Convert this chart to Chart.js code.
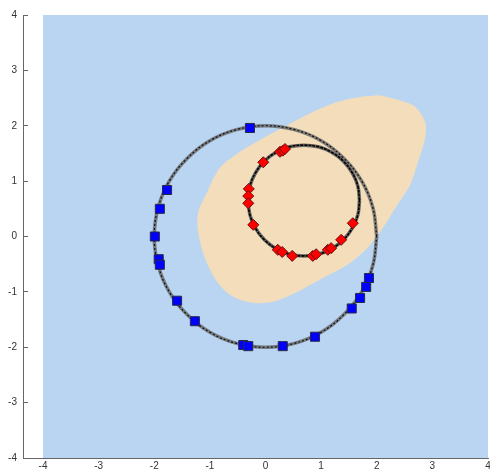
<!DOCTYPE html>
<html>
<head>
<meta charset="utf-8">
<script src="https://cdn.jsdelivr.net/npm/chart.js@4.4.1/dist/chart.umd.min.js"></script>
<style>
  html, body { margin: 0; padding: 0; background: #fff; overflow: hidden; }
  #wrap { position: relative; width: 490px; height: 472px; }
  #chart { display: block; }
</style>
</head>
<body>
<div id="wrap"><canvas id="chart"></canvas></div>
<script>
// tick labels
const xTicks = [-4, -3, -2, -1, 0, 1, 2, 3, 4];
const yTicks = [-4, -3, -2, -1, 0, 1, 2, 3, 4];

// region covered by the classifier image
const regionX = [-4, 4, 4, -4, -4];
const regionY = [-4, -4, 4, 4, -4];

// boundary of the positive (tan) region
const boundaryX = [2.06, 2.65, 2.87, 2.87, 2.74, 2.60, 2.37, 2.06, 1.83, 1.47, 1.03, 0.57, 0.13, -0.22, -0.58, -0.87, -1.09, -1.21, -1.21, -1.05, -0.82, -0.46, -0.04, 0.39, 0.85, 1.29, 1.70, 2.06];
const boundaryY = [2.55, 2.37, 2.07, 1.78, 1.34, 0.93, 0.57, 0.08, -0.21, -0.51, -0.75, -1.00, -1.18, -1.20, -1.09, -0.82, -0.39, 0.08, 0.44, 0.80, 1.24, 1.53, 1.78, 2.01, 2.25, 2.43, 2.52, 2.55];

// sampled outer ring
const outerX = [2.00, 1.93, 1.73, 1.41, 1.00, 0.52, 0.00, -0.52, -1.00, -1.41, -1.73, -1.93, -2.00, -1.93, -1.73, -1.41, -1.00, -0.52, 0.00, 0.52, 1.00, 1.41, 1.73, 1.93, 2.00];
const outerY = [0.00, 0.52, 1.00, 1.41, 1.73, 1.93, 2.00, 1.93, 1.73, 1.41, 1.00, 0.52, 0.00, -0.52, -1.00, -1.41, -1.73, -1.93, -2.00, -1.93, -1.73, -1.41, -1.00, -0.52, 0.00];

// sampled inner ring
const innerX = [1.69, 1.66, 1.56, 1.40, 1.19, 0.95, 0.69, 0.43, 0.19, -0.02, -0.18, -0.28, -0.31, -0.28, -0.18, -0.02, 0.19, 0.43, 0.69, 0.95, 1.19, 1.40, 1.56, 1.66, 1.69];
const innerY = [0.65, 0.91, 1.15, 1.36, 1.52, 1.62, 1.65, 1.62, 1.52, 1.36, 1.15, 0.91, 0.65, 0.39, 0.15, -0.06, -0.22, -0.32, -0.35, -0.32, -0.22, -0.06, 0.15, 0.39, 0.65];

// negative class points (blue squares)
const negX = [-0.28, -1.77, -1.90, -1.99, -1.92, -1.90, -1.59, -1.27, -0.40, -0.31, 0.31, 0.89, 1.55, 1.70, 1.81, 1.86];
const negY = [1.96, 0.84, 0.50, 0.00, -0.41, -0.51, -1.16, -1.53, -1.96, -1.98, -1.98, -1.81, -1.30, -1.11, -0.91, -0.75];

// positive class points (red diamonds)
const posX = [0.26, 0.31, 0.35, -0.04, -0.30, -0.31, -0.31, -0.22, 0.22, 0.30, 0.48, 0.85, 0.91, 1.12, 1.18, 1.36, 1.57];
const posY = [1.53, 1.55, 1.58, 1.34, 0.86, 0.73, 0.60, 0.21, -0.24, -0.28, -0.35, -0.35, -0.32, -0.24, -0.21, -0.06, 0.24];

function pts(xs, ys) {
  return xs.map((x, i) => ({ x: x, y: ys[i] }));
}

function ring(xs, ys, color, width, dash, order) {
  return {
    data: pts(xs, ys),
    showLine: true,
    borderColor: color,
    borderWidth: width,
    borderDash: dash,
    tension: 0.4,
    pointRadius: 0,
    fill: false,
    order: order
  };
}

new Chart(document.getElementById("chart"), {
  type: "scatter",
  data: {
    datasets: [
      {
        data: pts(regionX, regionY),
        showLine: true,
        borderWidth: 0,
        borderColor: "rgba(0,0,0,0)",
        backgroundColor: "#b9d5f2",
        fill: "shape",
        pointRadius: 0,
        order: 10
      },
      {
        data: pts(boundaryX, boundaryY),
        showLine: true,
        borderWidth: 0,
        borderColor: "rgba(0,0,0,0)",
        backgroundColor: "#f3ddbb",
        fill: "shape",
        tension: 0.3,
        pointRadius: 0,
        order: 9
      },
      ring(outerX, outerY, "rgba(100,100,100,0.8)", 3.5, [], 6),
      ring(outerX, outerY, "#111", 1.2, [2, 2], 5),
      ring(innerX, innerY, "rgba(80,80,80,0.85)", 3.5, [], 6),
      ring(innerX, innerY, "#000", 1.6, [3, 1], 5),
      {
        data: pts(negX, negY),
        pointStyle: "rect",
        pointRadius: 6.4,
        backgroundColor: "#0000ff",
        borderColor: "#2a2a44",
        borderWidth: 1,
        order: 1
      },
      {
        data: pts(posX, posY),
        pointStyle: "rectRot",
        pointRadius: 5.5,
        backgroundColor: "#ff0000",
        borderColor: "#6a1010",
        borderWidth: 1,
        order: 1
      }
    ]
  },
  options: {
    responsive: true,
    maintainAspectRatio: false,
    animation: false,
    layout: { autoPadding: false, padding: { top: 15, right: 2, left: 0, bottom: 0 } },
    plugins: {
      legend: { display: false },
      tooltip: { enabled: false }
    },
    scales: {
      x: {
        type: "linear",
        min: -4.36,
        max: 4,
        afterBuildTicks: scale => { scale.ticks = xTicks.map(v => ({ value: v })); },
        afterFit: scale => {
          scale.height = 14;
          scale.paddingLeft = 0;
          scale.paddingRight = 0;
        },
        grid: { display: false, drawTicks: false, tickLength: 0 },
        border: { display: true, color: "#666", width: 1 },
        ticks: {
          padding: 2,
          color: "#333",
          font: { family: "'Liberation Sans', Arial, sans-serif", size: 10 },
          maxRotation: 0
        }
      },
      y: {
        type: "linear",
        position: "left",
        min: -4,
        max: 4,
        afterBuildTicks: scale => { scale.ticks = yTicks.map(v => ({ value: v })); },
        afterFit: scale => {
          scale.width = 23;
          scale.paddingTop = 0;
          scale.paddingBottom = 0;
        },
        grid: { display: true, drawOnChartArea: false, drawTicks: true, tickLength: -5, color: "#666" },
        border: { display: true, color: "#666", width: 1 },
        ticks: {
          padding: 11,
          color: "#333",
          font: { family: "'Liberation Sans', Arial, sans-serif", size: 10 }
        }
      }
    }
  }
});
</script>
</body>
</html>
